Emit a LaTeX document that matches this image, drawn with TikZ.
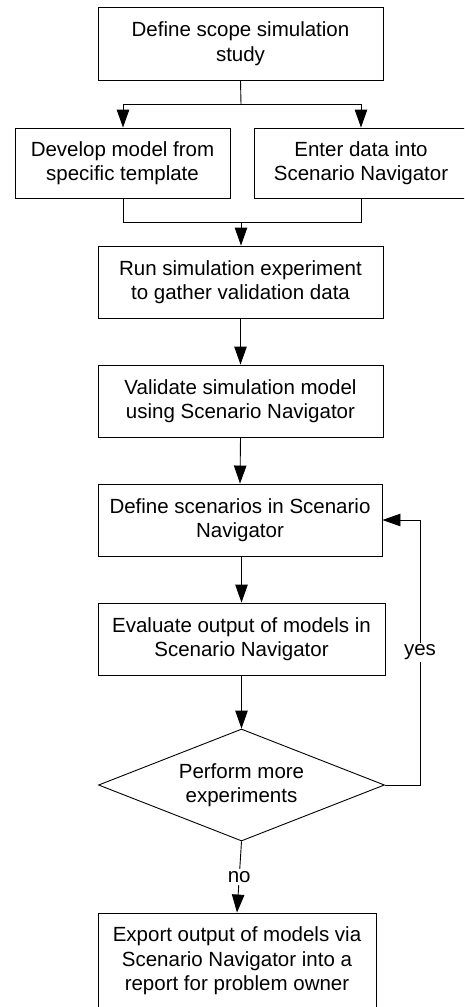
\documentclass[tikz,border=0pt]{standalone}
\usepackage{fontspec}
\setmainfont{Liberation Sans}
\usetikzlibrary{shapes.geometric,arrows.meta}
\tikzset{
  procbox/.style={draw=black, line width=0.9pt, rectangle, inner sep=0pt, align=center,
    font=\fontsize{20.5}{24.5}\selectfont},
  decbox/.style={draw=black, line width=0.9pt, diamond, aspect=2.55, inner sep=0pt, align=center,
    font=\fontsize{20.5}{24.5}\selectfont},
  conn/.style={line width=0.9pt, draw=black},
  arr/.style={conn, -{Triangle[width=12.5pt,length=18pt]}},
  lbl/.style={fill=white, inner sep=2pt, font=\fontsize{20.5}{24.5}\selectfont}
}
\begin{document}
\begin{tikzpicture}[x=1pt,y=-1pt]
\useasboundingbox (0,0) rectangle (464,1007);
\clip (0,0) rectangle (464,1007);
\fill[white] (0,0) rectangle (464,1007);

\node[procbox, minimum width=285pt, minimum height=73pt] (A) at (240.5,43.5) {Define scope simulation\\study};
\node[procbox, minimum width=215pt, minimum height=70pt] (B) at (122.5,163) {Develop model from\\specific template};
\node[procbox, minimum width=214pt, minimum height=70pt] (C) at (361,163) {Enter data into\\Scenario Navigator};
\node[procbox, minimum width=285pt, minimum height=72pt] (D) at (240.5,282) {Run simulation experiment\\to gather validation data};
\node[procbox, minimum width=285pt, minimum height=72pt] (E) at (240.5,401) {Validate simulation model\\using Scenario Navigator};
\node[procbox, minimum width=284pt, minimum height=72pt] (F) at (240,520) {Define scenarios in Scenario\\Navigator};
\node[procbox, minimum width=287pt, minimum height=72pt] (G) at (241.5,639) {Evaluate output of models in\\Scenario Navigator};
\node[decbox, minimum width=286pt, minimum height=112pt] (Q) at (241.5,785) {Perform more\\experiments};
\node[procbox, minimum width=278pt, minimum height=96pt] (H) at (237,961) {Export output of models via\\Scenario Navigator into a\\report for problem owner};

% split from A
\coordinate (s) at (241,104);
\coordinate (sl) at (123,104);
\coordinate (sr) at (361,104);
\draw[conn] (A.south) -- (s);
\draw[conn] (sl) -- (sr);
\draw[arr] (sl) -- (sl |- B.north);
\draw[arr] (sr) -- (sr |- C.north);

% merge into D
\coordinate (ml) at (123,222);
\coordinate (mr) at (361,222);
\coordinate (m) at (241,222);
\draw[conn] (ml |- B.south) -- (ml) -- (mr) -- (mr |- C.south);
\draw[arr] (m) -- (m |- D.north);

\draw[arr] (D.south) -- (E.north);
\draw[arr] (E.south) -- (F.north);
\draw[arr] (F.south -| G.north) -- (G.north);
\draw[arr] (G.south) -- (Q.north);
\draw[arr] (Q.south) -- node[lbl] {no} (H.north);

% yes loop
\coordinate (yb) at (420,785);
\coordinate (yt) at (420,520);
\draw[arr] (Q.east) -- (yb) -- node[lbl] {yes} (yt) -- (F.east);
\end{tikzpicture}
\end{document}
